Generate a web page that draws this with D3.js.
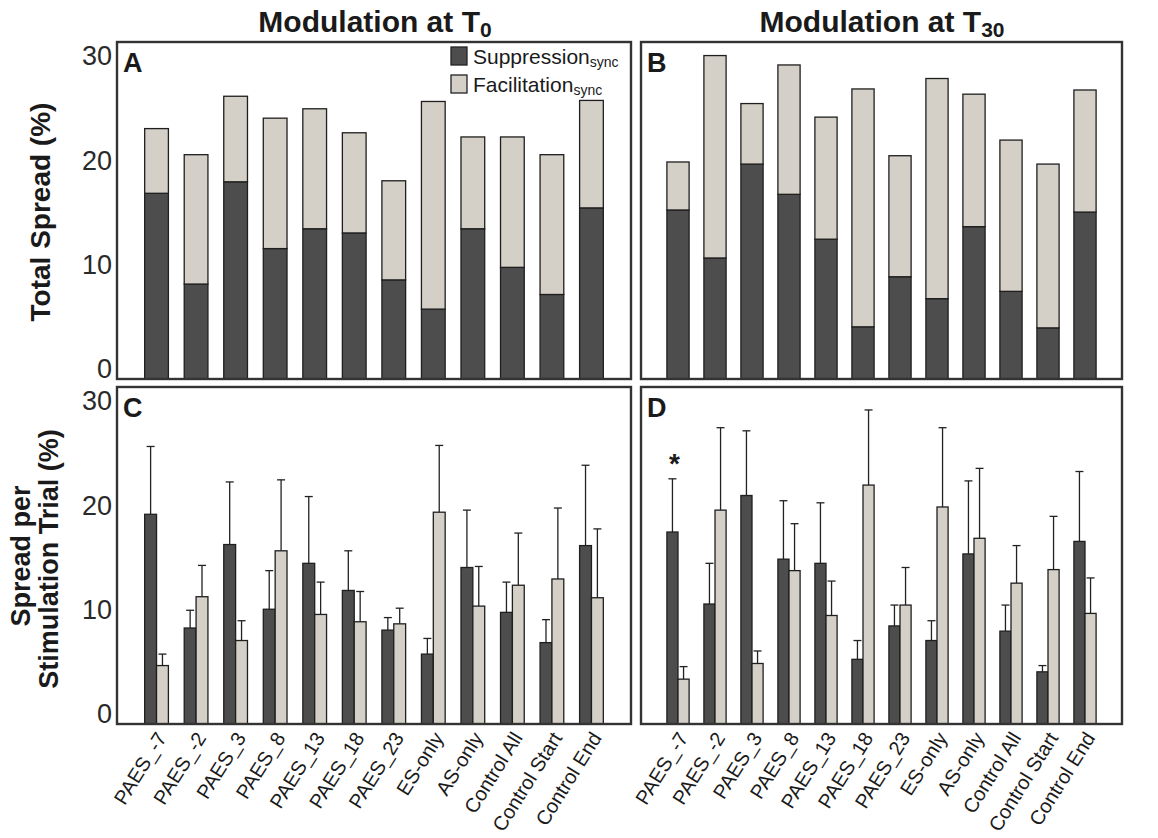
<!DOCTYPE html>
<html><head><meta charset="utf-8">
<script src="https://cdn.jsdelivr.net/npm/d3@7"></script>
<style>body{margin:0;background:#fff} svg{display:block} text{font-family:"Liberation Sans", Arial, sans-serif; fill:#1a1a1a}</style>
</head><body>
<svg id="chart" width="1158" height="838"></svg>
<script>
const categories = ["PAES_-7","PAES_-2","PAES_3","PAES_8","PAES_13","PAES_18","PAES_23","ES-only","AS-only","Control All","Control Start","Control End"];
const seriesNames = ["Suppression","Facilitation"];
const yTicks = [0,10,20,30];

// Panel A: total spread at T0 (stacked)
const totalSuppT0 = [16.8,8.1,17.9,11.5,13.4,13.0,8.5,5.7,13.4,9.7,7.1,15.4];
const totalFacT0  = [6.2,12.4,8.2,12.5,11.5,9.6,9.5,19.9,8.8,12.5,13.4,10.3];
// Panel B: total spread at T30 (stacked)
const totalSuppT30 = [15.2,10.6,19.6,16.7,12.4,4.0,8.8,6.7,13.6,7.4,3.9,15.0];
const totalFacT30  = [4.6,19.4,5.8,12.4,11.7,22.8,11.6,21.1,12.7,14.5,15.7,11.7];
// Panel C: spread per stimulation trial at T0 (mean, upper error)
const trialSuppT0    = [19.1,8.2,16.2,10.0,14.4,11.8,8.0,5.7,14.0,9.7,6.8,16.1];
const trialSuppErrT0 = [6.5,1.7,6.0,3.7,6.4,3.8,1.2,1.5,5.5,2.9,2.2,7.7];
const trialFacT0     = [4.6,11.2,7.0,15.6,9.5,8.8,8.6,19.3,10.3,12.3,12.9,11.1];
const trialFacErrT0  = [1.1,3.0,1.9,6.8,3.1,2.9,1.5,6.4,3.8,5.0,6.8,6.6];
// Panel D: spread per stimulation trial at T30
const trialSuppT30    = [17.4,10.5,20.9,14.8,14.4,5.2,8.4,7.0,15.3,7.9,4.0,16.5];
const trialSuppErrT30 = [5.1,3.9,6.2,5.6,5.8,1.8,2.0,1.9,7.0,2.5,0.6,6.7];
const trialFacT30     = [3.3,19.5,4.8,13.7,9.4,21.9,10.4,19.8,16.8,12.5,13.8,9.6];
const trialFacErrT30  = [1.2,7.9,1.2,4.5,3.3,7.2,3.6,7.6,6.7,3.6,5.1,3.4];
const significant = ["PAES_-7"]; // marked with * in panel D

const colors = {Suppression:"#4d4d4d", Facilitation:"#d4d0c8"};
const svg = d3.select("#chart");

const panels = {
  A:{x0:117,x1:631,y0:42,y1:379},
  B:{x0:641,x1:1122,y0:42,y1:379},
  C:{x0:117,x1:631,y0:387,y1:724},
  D:{x0:641,x1:1122,y0:387,y1:724}
};
function scales(p){
  const x = d3.scaleBand().domain(categories).range([p.x0,p.x1]).paddingInner(0.4).paddingOuter(0.7);
  const y = d3.scaleLinear().domain([-1,31.3]).range([p.y1,p.y0]);
  return {x,y};
}

function stacked(key, supp, fac){
  const p = panels[key], {x,y} = scales(p);
  const rows = categories.map((c,i)=>({cat:c, Suppression:supp[i], Facilitation:fac[i]}));
  const st = d3.stack().keys(seriesNames)(rows);
  const base = y.domain()[0];
  const g = svg.append("g");
  st.forEach(layer=>{
    g.selectAll(null).data(layer).join("rect")
      .attr("x", d=>x(d.data.cat))
      .attr("width", x.bandwidth())
      .attr("y", d=>y(d[1]))
      .attr("height", d=>y(d[0]===0?base:d[0]) - y(d[1]))
      .attr("fill", colors[layer.key])
      .attr("stroke","#1f1f1f").attr("stroke-width",1.3);
  });
  frame(key);
}

function grouped(key, supp, suppErr, fac, facErr){
  const p = panels[key], {x,y} = scales(p);
  const xi = d3.scaleBand().domain(seriesNames).range([0,x.bandwidth()]);
  const rows = [];
  categories.forEach((c,i)=>{
    rows.push({cat:c, s:"Suppression", v:supp[i], e:suppErr[i]});
    rows.push({cat:c, s:"Facilitation", v:fac[i], e:facErr[i]});
  });
  const g = svg.append("g");
  const cx = d=>x(d.cat)+xi(d.s)+xi.bandwidth()/2;
  g.selectAll("line.eb").data(rows).join("line").attr("class","eb")
    .attr("x1",cx).attr("x2",cx).attr("y1",d=>y(d.v)).attr("y2",d=>y(d.v+d.e))
    .attr("stroke","#222").attr("stroke-width",1.3);
  g.selectAll("line.cap").data(rows).join("line").attr("class","cap")
    .attr("x1",d=>cx(d)-4).attr("x2",d=>cx(d)+4).attr("y1",d=>y(d.v+d.e)).attr("y2",d=>y(d.v+d.e))
    .attr("stroke","#222").attr("stroke-width",1.3);
  g.selectAll("rect").data(rows).join("rect")
    .attr("x",d=>x(d.cat)+xi(d.s)).attr("width",xi.bandwidth())
    .attr("y",d=>y(d.v)).attr("height",d=>y(y.domain()[0])-y(d.v))
    .attr("fill",d=>colors[d.s]).attr("stroke","#1f1f1f").attr("stroke-width",1.3);
  frame(key);
  // x labels
  svg.append("g").selectAll("text").data(categories).join("text")
    .attr("transform", d=>`translate(${x(d)+x.bandwidth()/2+5},${p.y1+10}) rotate(-58)`)
    .attr("text-anchor","end").attr("dy","0.35em")
    .style("font-size","20px").text(d=>d);
  return {x,y,xi};
}

function frame(key){
  const p = panels[key];
  svg.append("rect").attr("x",p.x0).attr("y",p.y0).attr("width",p.x1-p.x0).attr("height",p.y1-p.y0)
    .attr("fill","none").attr("stroke","#333").attr("stroke-width",2.4);
  svg.append("text").attr("x",p.x0+6).attr("y",p.y0+30).text(key)
    .style("font-size","27px").style("font-weight","bold");
}

stacked("A", totalSuppT0, totalFacT0);
stacked("B", totalSuppT30, totalFacT30);
grouped("C", trialSuppT0, trialSuppErrT0, trialFacT0, trialFacErrT0);
const dS = grouped("D", trialSuppT30, trialSuppErrT30, trialFacT30, trialFacErrT30);

// significance star
significant.forEach(c=>{
  const i = categories.indexOf(c);
  const cx = dS.x(c)+dS.xi("Suppression")+dS.xi.bandwidth()/2;
  svg.append("text").attr("x",cx+2).attr("y",dS.y(trialSuppT30[i]+trialSuppErrT30[i])-6)
    .attr("text-anchor","middle").style("font-size","28px").style("font-weight","bold").text("*");
});

// y tick labels (left panels only)
["A","C"].forEach(k=>{
  const {y} = scales(panels[k]);
  svg.append("g").selectAll("text").data(yTicks).join("text")
    .attr("x",112).attr("y",d=>y(d)).attr("dy","0.36em").attr("text-anchor","end")
    .style("font-size","27px").style("fill","#2a2a2a").text(d=>d);
});

// titles
function title(x, main, sub){
  const t = svg.append("text").attr("x",x).attr("y",32).attr("text-anchor","middle")
    .style("font-size","30px").style("font-weight","bold");
  t.append("tspan").text(main);
  t.append("tspan").attr("dy","0.25em").style("font-size","21px").text(sub);
}
title(375, "Modulation at T", "0");
title(882, "Modulation at T", "30");

// y axis titles
svg.append("text").attr("transform","translate(50,212) rotate(-90)").attr("text-anchor","middle")
  .style("font-size","28px").style("font-weight","bold").text("Total Spread (%)");
svg.append("text").attr("transform","translate(30,556) rotate(-90)").attr("text-anchor","middle")
  .style("font-size","27px").style("font-weight","bold").text("Spread per");
svg.append("text").attr("transform","translate(58,559) rotate(-90)").attr("text-anchor","middle")
  .style("font-size","27px").style("font-weight","bold").text("Stimulation Trial (%)");

// legend
const leg = svg.append("g");
seriesNames.forEach((s,i)=>{
  leg.append("rect").attr("x",451).attr("y",47+i*28).attr("width",16).attr("height",18)
    .attr("fill",colors[s]).attr("stroke","#222").attr("stroke-width",1.3);
  const t = leg.append("text").attr("x",473).attr("y",64+i*28).style("font-size","21px");
  t.append("tspan").text(s);
  t.append("tspan").attr("dy","0.2em").style("font-size","14px").text("sync");
});
</script>
</body></html>
